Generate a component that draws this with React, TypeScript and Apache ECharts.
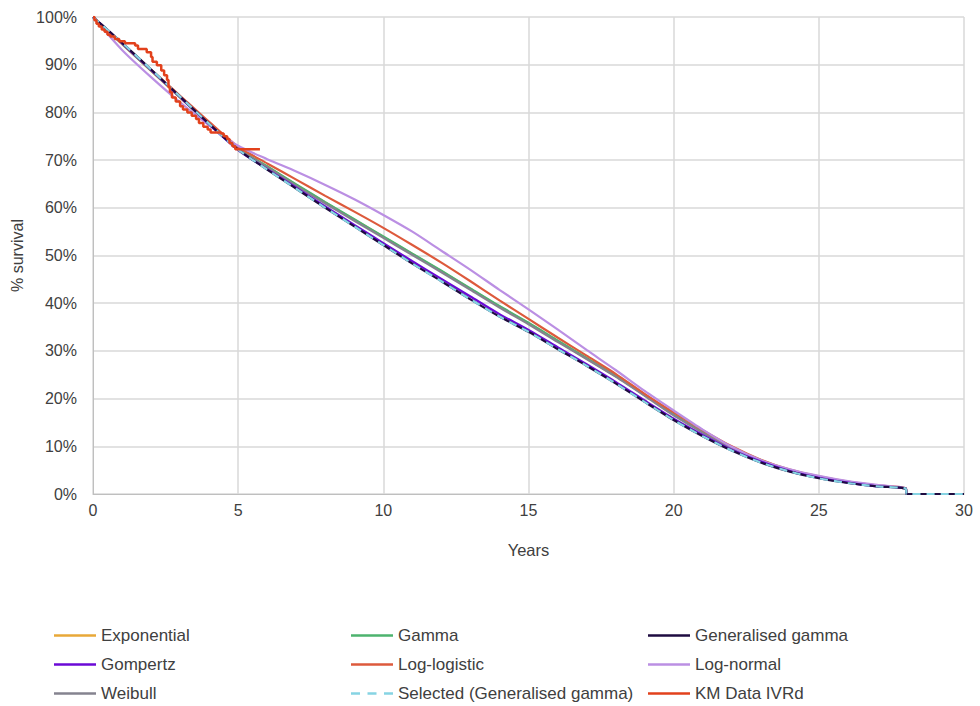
import React, { useEffect, useRef } from "react";
import * as echarts from "echarts";

const years = [0, 1, 2, 3, 4, 5, 6, 7, 8, 9, 10, 11, 12, 13, 14, 15, 16, 17, 18, 19, 20, 21, 22, 23, 24, 25, 26, 27, 28];
const tailYears = [28.02, 30];
const tailValues = [0, 0];

const exponential = [100, 94.3, 88.7, 83.1, 77.6, 72.4, 68.6, 64.8, 61.1, 57.5, 53.9, 50.3, 46.7, 43.0, 39.3, 35.8, 32.1, 28.4, 24.7, 20.7, 16.6, 13.0, 9.8, 7.0, 5.0, 3.6, 2.5, 1.7, 1.1];
const gamma = [100, 94.4, 88.8, 83.2, 77.6, 72.4, 68.7, 64.9, 61.2, 57.6, 54.0, 50.4, 46.8, 43.1, 39.4, 35.9, 32.2, 28.5, 24.8, 20.8, 16.7, 13.0, 9.8, 7.1, 5.0, 3.6, 2.5, 1.7, 1.1];
const genGamma = [100, 94.6, 89.0, 83.3, 77.6, 72.2, 68.0, 64.0, 60.0, 56.1, 52.2, 48.3, 44.6, 40.8, 37.2, 34.0, 30.4, 26.9, 23.2, 19.3, 15.5, 12.1, 9.1, 6.6, 4.7, 3.3, 2.3, 1.6, 1.1];
const gompertz = [100, 94.5, 88.9, 83.2, 77.5, 72.1, 68.1, 64.2, 60.3, 56.4, 52.6, 48.8, 45.1, 41.4, 37.7, 34.4, 30.8, 27.2, 23.5, 19.6, 15.8, 12.4, 9.3, 6.8, 4.8, 3.4, 2.4, 1.6, 1.1];
const logLogistic = [100, 94.5, 89.0, 83.5, 78.0, 72.8, 69.3, 65.9, 62.5, 59.2, 55.8, 52.2, 48.5, 44.6, 40.6, 36.7, 32.8, 29.0, 25.2, 21.0, 17.1, 13.4, 10.0, 7.2, 5.1, 3.7, 2.6, 1.8, 1.2];
const logNormal = [100, 93.1, 87.4, 82.1, 77.3, 73.0, 70.2, 67.6, 64.8, 61.8, 58.5, 55.0, 51.0, 47.0, 42.8, 38.7, 34.5, 30.2, 26.0, 21.6, 17.5, 13.5, 9.9, 7.1, 5.2, 3.8, 2.7, 1.9, 1.2];
const weibull = [100, 94.4, 88.8, 83.2, 77.6, 72.3, 68.5, 64.6, 60.9, 57.3, 53.7, 50.1, 46.5, 42.8, 39.1, 35.6, 31.9, 28.3, 24.6, 20.6, 16.5, 12.9, 9.7, 7.0, 5.0, 3.6, 2.5, 1.7, 1.1];
const selected = [100, 94.6, 89.0, 83.3, 77.6, 72.2, 68.0, 64.0, 60.0, 56.1, 52.2, 48.3, 44.6, 40.8, 37.2, 34.0, 30.4, 26.9, 23.2, 19.3, 15.5, 12.1, 9.1, 6.6, 4.7, 3.3, 2.3, 1.6, 1.1];

const kmTimes = [0, 0.05, 0.12, 0.2, 0.3, 0.4, 0.5, 0.6, 0.75, 0.9, 1.1, 1.45, 1.55, 1.85, 2.0, 2.05, 2.2, 2.35, 2.45, 2.55, 2.6, 2.65, 2.72, 2.85, 3.0, 3.1, 3.25, 3.4, 3.55, 3.65, 3.8, 3.95, 4.05, 4.4, 4.5, 4.62, 4.7, 4.8, 4.9, 5.75];
const kmSurvival = [100, 99.3, 98.6, 98.0, 97.4, 96.9, 96.3, 95.9, 95.4, 94.9, 94.5, 94.0, 93.3, 92.6, 91.6, 90.6, 89.9, 88.8, 87.8, 86.8, 85.3, 84.2, 83.1, 82.3, 81.3, 80.6, 80.0, 79.3, 78.6, 77.8, 77.0, 76.4, 75.8, 75.6, 75.0, 74.4, 73.6, 72.9, 72.3, 72.3];

const xTicks = { min: 0, max: 30, interval: 5 };
const yTicks = { min: 0, max: 100, interval: 10 };

// legend grid: 3 columns x 3 rows
const legendRows = [
  ["Exponential", "Gamma", "Generalised gamma"],
  ["Gompertz", "Log-logistic", "Log-normal"],
  ["Weibull", "Selected (Generalised gamma)", "KM Data IVRd"],
];

const FONT = "'Liberation Sans', Arial, sans-serif";
const TEXT = "#404040";

const SOLID_ICON = "path://M0,0 L42,0 L42,2.5 L0,2.5 Z";
const DASH_ICON = "path://M0,0h9v2.5h-9z M16.5,0h9v2.5h-9z M33,0h9v2.5h-9z";

function curve(values: number[]) {
  const pts: number[][] = years.map((x, i) => [x, values[i]]);
  tailYears.forEach((x, i) => pts.push([x, tailValues[i]]));
  return pts;
}

function modelSeries(name: string, values: number[], color: string, extra: any = {}) {
  return {
    name,
    type: "line",
    data: curve(values),
    showSymbol: false,
    symbol: "none",
    smooth: 0.25,
    lineStyle: { color, width: 2.2, ...(extra.lineStyle || {}) },
    itemStyle: { color },
    z: extra.z ?? 2,
  };
}

export default function App() {
  const ref = useRef<HTMLDivElement>(null);
  useEffect(() => {
    if (!ref.current) return;
    const chart = echarts.init(ref.current, undefined, { renderer: "svg" });
    const colLeft = [54, 351, 648];
    const rowCenter = [636, 665, 694];
    const legends: any[] = [];
    legendRows.forEach((row, r) => {
      row.forEach((name, c) => {
        legends.push({
          left: colLeft[c],
          top: rowCenter[r] - 9,
          padding: 0,
          itemWidth: 42,
          itemHeight: 2.5,
          itemGap: 0,
          itemTextGap: 5,
          selectedMode: false,
          itemStyle: { borderWidth: 0 },
          textStyle: { fontFamily: FONT, fontSize: 17, color: TEXT },
          data: [{ name, icon: name.startsWith("Selected") ? DASH_ICON : SOLID_ICON }],
        });
      });
    });
    chart.setOption({
      animation: false,
      backgroundColor: "#ffffff",
      grid: { left: 93, right: 16, top: 17, bottom: 212, containLabel: false },
      legend: legends,
      xAxis: {
        type: "value",
        min: xTicks.min,
        max: xTicks.max,
        interval: xTicks.interval,
        name: "Years",
        nameLocation: "middle",
        nameGap: 47,
        nameTextStyle: { fontFamily: FONT, fontSize: 16.5, color: TEXT },
        axisLine: { show: true, lineStyle: { color: "#BFBFBF", width: 1 } },
        axisTick: { show: false },
        axisLabel: { fontFamily: FONT, fontSize: 16, color: TEXT, margin: 8 },
        splitLine: { show: true, lineStyle: { color: "#D9D9D9", width: 1.5 } },
      },
      yAxis: {
        type: "value",
        min: yTicks.min,
        max: yTicks.max,
        interval: yTicks.interval,
        name: "% survival",
        nameLocation: "middle",
        nameGap: 67,
        nameRotate: 90,
        nameTextStyle: { fontFamily: FONT, fontSize: 16, color: TEXT },
        axisLine: { show: true, lineStyle: { color: "#BFBFBF", width: 1 } },
        axisTick: { show: false },
        axisLabel: { fontFamily: FONT, fontSize: 16, color: TEXT, margin: 16, formatter: "{value}%" },
        splitLine: { show: true, lineStyle: { color: "#D9D9D9", width: 1.5 } },
      },
      series: [
        modelSeries("Exponential", exponential, "#E8A838"),
        modelSeries("Gamma", gamma, "#4DB36E"),
        modelSeries("Weibull", weibull, "#85838F"),
        modelSeries("Log-logistic", logLogistic, "#DD5A3C"),
        modelSeries("Log-normal", logNormal, "#BB8FE3"),
        modelSeries("Gompertz", gompertz, "#6B0AD6"),
        modelSeries("Generalised gamma", genGamma, "#1E0B40"),
        modelSeries("Selected (Generalised gamma)", selected, "#86D4E3", { lineStyle: { type: [8, 6] }, z: 3 }),
        {
          name: "KM Data IVRd",
          type: "line",
          step: "end",
          data: kmTimes.map((t, i) => [t, kmSurvival[i]]),
          showSymbol: false,
          symbol: "none",
          lineStyle: { color: "#E2411C", width: 2.5 },
          itemStyle: { color: "#E2411C" },
          z: 4,
        },
      ],
    });
    return () => chart.dispose();
  }, []);
  return (
    <div
      ref={ref}
      style={{ position: "fixed", left: 0, top: 0, width: 980, height: 706, background: "#fff" }}
    />
  );
}
